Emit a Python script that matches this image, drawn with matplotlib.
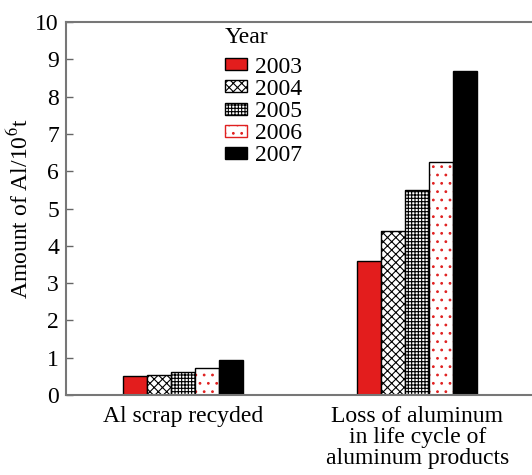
import matplotlib
matplotlib.use("Agg")
import matplotlib.pyplot as plt
from matplotlib.patches import Patch
import numpy as np

plt.rcParams['font.family'] = ['Liberation Serif', 'DejaVu Serif']
plt.rcParams['mathtext.fontset'] = 'stix'
plt.rcParams['hatch.linewidth'] = 0.8

categories = ["Al scrap recyded", "Loss of aluminum\nin life cycle of\naluminum products"]
years = ["2003", "2004", "2005", "2006", "2007"]
values = {
    "2003": [0.51, 3.60],
    "2004": [0.54, 4.40],
    "2005": [0.62, 5.50],
    "2006": [0.72, 6.24],
    "2007": [0.95, 8.69],
}
yticks = [0, 1, 2, 3, 4, 5, 6, 7, 8, 9, 10]

styles = {
    "2003": dict(face="#e31d1d", hatch=None, hcolor=None),
    "2004": dict(face="white", hatch="xxxx", hcolor="black"),
    "2005": dict(face="white", hatch="+++++", hcolor="black"),
    "2006": dict(face="white", hatch="..", hcolor="#e02020"),
    "2007": dict(face="black", hatch=None, hcolor=None),
}

fig = plt.figure(figsize=(5.32, 4.75), dpi=100)
ax = fig.add_axes([0.124, 0.1684, 0.876, 0.7853])

x = np.arange(len(categories))
w = 0.1026
handles = []
for i, yr in enumerate(years):
    pos = x + (i - 2) * w
    st = styles[yr]
    if st["hatch"]:
        ax.bar(pos, values[yr], w, color=st["face"], edgecolor=st["hcolor"],
               hatch=st["hatch"], linewidth=0)
        ax.bar(pos, values[yr], w, fill=False, edgecolor="black", linewidth=1.0)
    else:
        ax.bar(pos, values[yr], w, color=st["face"], edgecolor="black", linewidth=1.0)
    handles.append(Patch(facecolor=st["face"], edgecolor="black" if st["hcolor"] is None else st["hcolor"],
                         hatch=st["hatch"], linewidth=1.0, label=yr))

ax.set_xlim(-0.5, 1.49)
ax.set_ylim(0, 10)
ax.set_yticks(yticks)
ax.set_xticks(x)
ax.set_xticklabels(categories, fontsize=17, linespacing=1.0)
ax.tick_params(axis='y', direction='in', length=5, width=1, color="#666666", labelsize=17, pad=5)
ax.tick_params(axis='x', length=0, pad=8)
ax.set_ylabel("Amount of Al/10$^6$t", fontsize=17, labelpad=2)

for s in ["left", "bottom", "top"]:
    ax.spines[s].set_color("#777777")
    ax.spines[s].set_linewidth(1.5)
ax.spines["right"].set_visible(False)

leg = ax.legend(handles=handles, title="Year", loc="upper left", bbox_to_anchor=(0.305, 1.03),
                frameon=False, fontsize=17, title_fontsize=17, handlelength=0.95, handleheight=0.4,
                handletextpad=0.35, labelspacing=0.05, borderpad=0.2, alignment="left")
leg._legend_box.sep = 6

fig.savefig("out.png", dpi=100)
